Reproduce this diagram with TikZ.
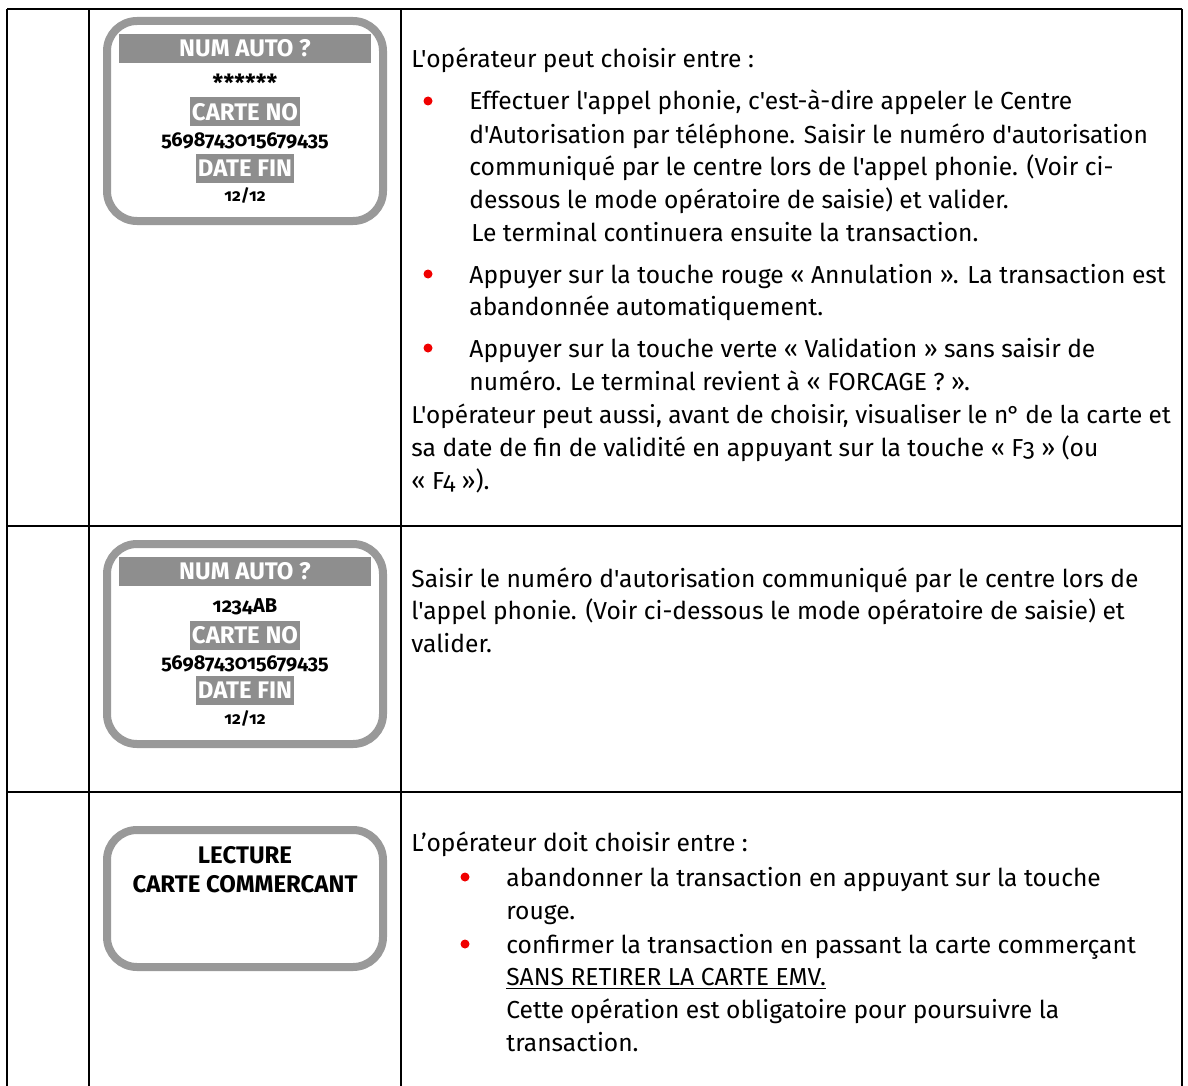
\documentclass[tikz,border=0pt]{standalone}
\usepackage{fontspec}
\setmainfont{Fira Sans}[Ligatures=TeXOff,Numbers=OldStyle]
\definecolor{screengrey}{HTML}{999999}
\definecolor{bannergrey}{HTML}{8E8E8E}
\definecolor{bulletred}{HTML}{F00000}

\begin{document}
\begin{tikzpicture}[x=0.5pt,y=-0.5pt,
  screen/.style={shape=rectangle,draw=screengrey,line width=4pt,rounded corners=15pt,inner sep=0pt},
  banner/.style={shape=rectangle,fill=bannergrey,text=white,inner sep=0pt,font=\fontsize{12}{14}\bfseries},
  hilite/.style={shape=rectangle,fill=bannergrey,text=white,inner xsep=1pt,inner ysep=0pt,minimum height=14.5pt,font=\fontsize{12}{14}\bfseries},
  scr/.style={inner sep=0pt,font=\fontsize{10}{12}\bfseries},
  txt/.style={anchor=base west,inner sep=0pt,font=\fontsize{12.3}{14}\selectfont},
  dot/.style={circle,fill=bulletred,inner sep=0pt,minimum size=4.5pt}]
\useasboundingbox (0,0) rectangle (1188,1086);

%%%%%%%% table
\coordinate (t0) at (7,9);
\coordinate (t1) at (89,9);
\coordinate (t2) at (401,9);
\coordinate (t3) at (1182,9);
\coordinate (b0) at (7,1086);
\coordinate (b1) at (89,1086);
\coordinate (b2) at (401,1086);
\coordinate (b3) at (1182,1086);
\coordinate (r1l) at (7,526);
\coordinate (r1r) at (1182,526);
\coordinate (r2l) at (7,792);
\coordinate (r2r) at (1182,792);
\path [-,line width=1.3pt] (t0) edge (t3);
\path [-,line width=1.3pt] (t0) edge (b0);
\path [-,line width=1.3pt] (t1) edge (b1);
\path [-,line width=1.3pt] (t2) edge (b2);
\path [-,line width=1.3pt] (t3) edge (b3);
\path [-,line width=1.3pt] (r1l) edge (r1r);
\path [-,line width=1.3pt] (r2l) edge (r2r);

%%%%%%%% screen 1
\node[screen,minimum width=138pt,minimum height=100pt] (s1) at (245,121){};
\node[banner,minimum width=126pt,minimum height=14.5pt] (s1a) at (245,48.5){NUM AUTO ?};
\node[scr,font=\fontsize{11.8}{13}\bfseries] (s1b) at (245,83){******};
\node[hilite] (s1c) at (245,112){CARTE NO};
\node[scr] (s1d) at (245,141){5698743015679435};
\node[hilite] (s1e) at (245,168.5){DATE FIN};
\node[scr,font=\fontsize{8.5}{10}\bfseries] (s1f) at (245,196){12/12};

%%%%%%%% screen 2
\node[screen,minimum width=138pt,minimum height=100pt] (s2) at (245,644){};
\node[banner,minimum width=126pt,minimum height=14.5pt] (s2a) at (245,571.5){NUM AUTO ?};
\node[scr] (s2b) at (245,607){1234AB};
\node[hilite] (s2c) at (245,635){CARTE NO};
\node[scr] (s2d) at (245,664){5698743015679435};
\node[hilite] (s2e) at (245,690){DATE FIN};
\node[scr,font=\fontsize{8.5}{10}\bfseries] (s2f) at (245,719){12/12};

%%%%%%%% screen 3
\node[screen,minimum width=138pt,minimum height=68.5pt] (s3) at (245,898.5){};
\node[scr,font=\fontsize{12}{14}\bfseries] (s3a) at (245,855){LECTURE};
\node[scr,font=\fontsize{12}{14}\bfseries] (s3b) at (245,884){CARTE COMMERCANT};

%%%%%%%% row 1
\node[txt] (a0) at (411,68){L'opérateur peut choisir entre :};
\node[dot] (d1) at (428,101){};
\node[txt] (a1) at (469,110){Effectuer l'appel phonie, c'est-à-dire appeler le Centre};
\node[txt] (a2) at (469,143){d'Autorisation par téléphone. Saisir le numéro d'autorisation};
\node[txt] (a3) at (469,176){communiqué par le centre lors de l'appel phonie. (Voir ci-};
\node[txt] (a4) at (469,208){dessous le mode opératoire de saisie) et valider.};
\node[txt] (a5) at (471,241){Le terminal continuera ensuite la transaction.};
\node[dot] (d2) at (428,274){};
\node[txt] (a6) at (469,283){Appuyer sur la touche rouge « Annulation ». La transaction est};
\node[txt] (a7) at (469,315){abandonnée automatiquement.};
\node[dot] (d3) at (428,348){};
\node[txt] (a8) at (469,357){Appuyer sur la touche verte « Validation » sans saisir de};
\node[txt] (a9) at (469,390){numéro. Le terminal revient à « FORCAGE ? ».};
\node[txt,font=\fontsize{12.2}{14}\selectfont] (a10) at (411,423){L'opérateur peut aussi, avant de choisir, visualiser le n\kern-0.6pt°\kern-0.6pt{} de la carte et};
\node[txt] (a11) at (411,456){sa date de fin de validité en appuyant sur la touche « F3 » (ou};
\node[txt] (a12) at (411,489){« F4 »).};

%%%%%%%% row 2
\node[txt] (b1t) at (411,587){Saisir le numéro d'autorisation communiqué par le centre lors de};
\node[txt] (b2t) at (411,619){l'appel phonie. (Voir ci-dessous le mode opératoire de saisie) et};
\node[txt] (b3t) at (411,652){valider.};

%%%%%%%% row 3
\node[txt] (c0) at (411,851){L’opérateur doit choisir entre :};
\node[dot] (e1) at (465,877){};
\node[txt] (c1) at (506,886){abandonner la transaction en appuyant sur la touche};
\node[txt] (c2) at (506,919){rouge.};
\node[dot] (e2) at (465,944){};
\node[txt] (c3) at (506,953){confirmer la transaction en passant la carte commerçant};
\node[txt] (c4) at (506,985){\underline{SANS RETIRER LA CARTE EMV.}};
\node[txt] (c5) at (506,1018){Cette opération est obligatoire pour poursuivre la};
\node[txt] (c6) at (506,1051){transaction.};

\end{tikzpicture}
\end{document}
